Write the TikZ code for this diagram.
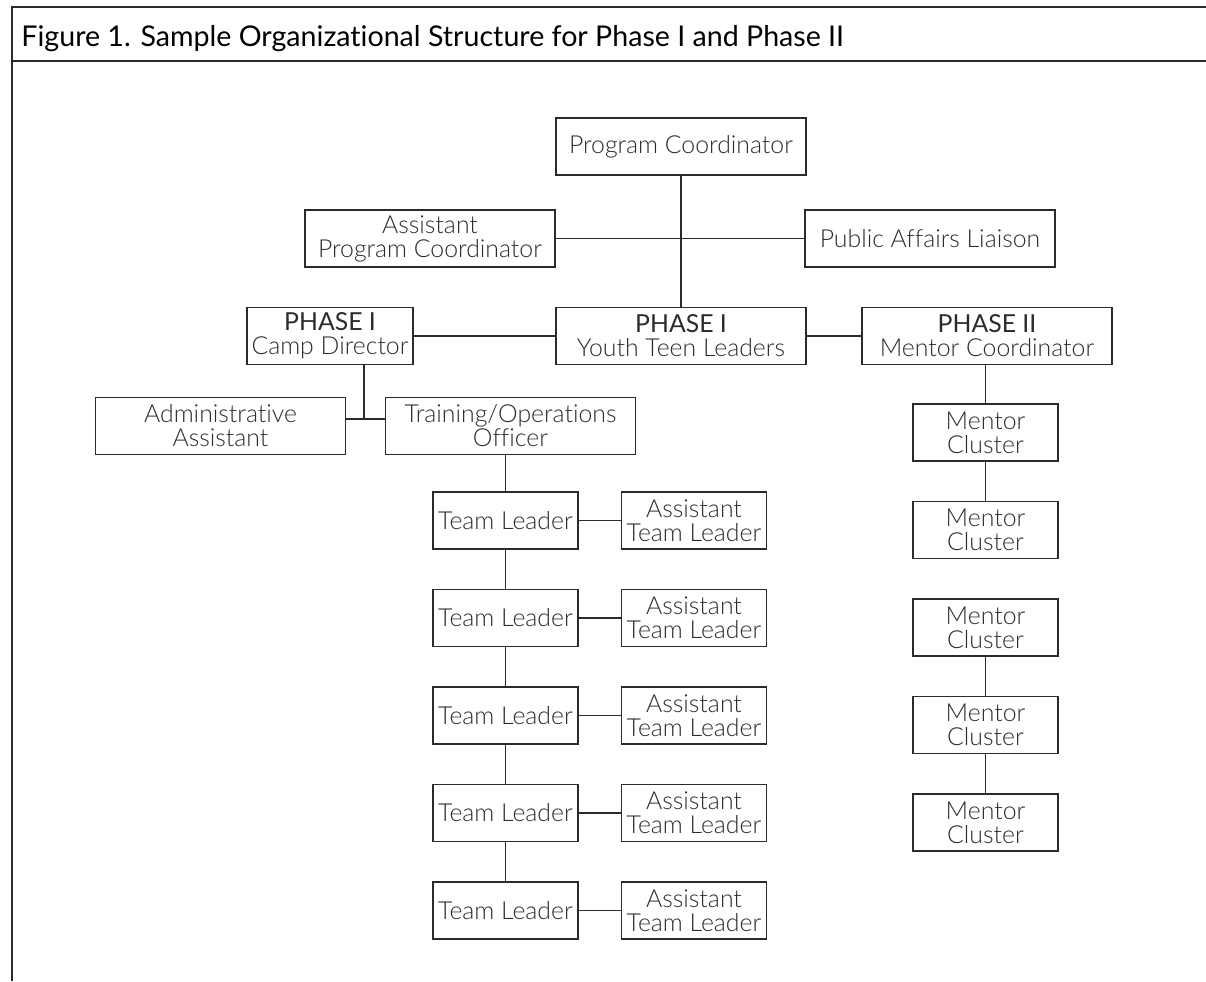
\documentclass[tikz,border=0pt]{standalone}
\usepackage{fontspec}
\IfFontExistsTF{Lato Light}{\setmainfont{Lato Light}[BoldFont={Lato}, Ligatures=NoCommon]}{\setmainfont{Lato}[Ligatures=NoCommon]}
\newfontfamily\titlefont{Lato}[Ligatures=NoCommon]
\usepackage{xcolor}
\usepackage{tikz}
\usetikzlibrary{positioning, calc}

\definecolor{inkgray}{HTML}{2B2B2B}

\begin{document}
\begin{tikzpicture}[
		x=0.5pt, y=-0.5pt,
		node distance=19.5pt and 21pt,
		font=\fontsize{12.4}{12}\selectfont,
		wbox/.style={rectangle, draw=inkgray, line width=0.75pt, text=inkgray, minimum width=125pt, minimum height=28.5pt, inner sep=1pt, align=center},
		cbox/.style={wbox, minimum width=83pt},
		sbox/.style={wbox, minimum width=72.5pt},
		link/.style={draw=inkgray, line width=0.75pt},
		frame/.style={draw=inkgray, line width=1.4pt}
		]
		
		% page frame and title
		\useasboundingbox (0,0) rectangle (1206,981);
		\draw[frame] (12,981) -- (12,7) -- (1206,7);
		\draw[frame] (12,61) -- (1206,61);
		\node[anchor=base west, inner sep=0pt, text=black, font=\titlefont\fontsize{14.3}{16}\selectfont] (title) at (21,46) {Figure 1. Sample Organizational Structure for Phase I and Phase II};
		
		% top of the chart
		\node[wbox] (pc) at (681,146.5) {Program Coordinator};
		\node[wbox] (apc) at (430,238.5) {Assistant\\Program Coordinator};
		\node[wbox] (pal) at (930,238.5) {Public Affairs Liaison};
		
		% phase row
		\node[wbox] (youth) at (681,336) {\textbf{PHASE I}\\Youth Teen Leaders};
		\node[cbox] (cd) at (330,336) {\textbf{PHASE I}\\Camp Director};
		\node[wbox] (mcoord) at (987,336) {\textbf{PHASE II}\\Mentor Coordinator};
		
		% camp staff
		\node[wbox] (admin) at (220.5,426) {Administrative\\Assistant};
		\node[wbox] (training) at (510.5,426) {Training/Operations\\Officer};
		\coordinate (cdjoin) at (364,419);
		
		% team leaders with assistants
		\node[sbox] (tl1) at (505.5,520.5) {Team Leader};
		\node[sbox, below=of tl1] (tl2) {Team Leader};
		\node[sbox, below=of tl2] (tl3) {Team Leader};
		\node[sbox, below=of tl3] (tl4) {Team Leader};
		\node[sbox, below=of tl4] (tl5) {Team Leader};
		\node[sbox, right=of tl1] (atl1) {Assistant\\Team Leader};
		\node[sbox, right=of tl2] (atl2) {Assistant\\Team Leader};
		\node[sbox, right=of tl3] (atl3) {Assistant\\Team Leader};
		\node[sbox, right=of tl4] (atl4) {Assistant\\Team Leader};
		\node[sbox, right=of tl5] (atl5) {Assistant\\Team Leader};
		
		% mentor clusters
		\node[sbox] (mc1) at (985.5,432.5) {Mentor\\Cluster};
		\node[sbox, below=of mc1] (mc2) {Mentor\\Cluster};
		\node[sbox, below=of mc2] (mc3) {Mentor\\Cluster};
		\node[sbox, below=of mc3] (mc4) {Mentor\\Cluster};
		\node[sbox, below=of mc4] (mc5) {Mentor\\Cluster};
		
		% connectors
		\draw[link] (pc) -- (youth);
		\draw[link] (apc) -- (pal);
		\draw[link] (cd) -- (youth);
		\draw[link] (youth) -- (mcoord);
		\draw[link] (cd.south -| cdjoin) -- (cdjoin);
		\draw[link] (admin.east |- cdjoin) -- (training.west |- cdjoin);
		\draw[link] (training.south -| tl1) -- (tl1);
		\draw[link] (tl1) -- (tl2);
		\draw[link] (tl2) -- (tl3);
		\draw[link] (tl3) -- (tl4);
		\draw[link] (tl4) -- (tl5);
		\draw[link] (tl1) -- (atl1);
		\draw[link] (tl2) -- (atl2);
		\draw[link] (tl3) -- (atl3);
		\draw[link] (tl4) -- (atl4);
		\draw[link] (tl5) -- (atl5);
		\draw[link] (mcoord.south -| mc1) -- (mc1);
		\draw[link] (mc1) -- (mc2);
		\draw[link] (mc3) -- (mc4);
		\draw[link] (mc4) -- (mc5);
		
	\end{tikzpicture}
\end{document}
